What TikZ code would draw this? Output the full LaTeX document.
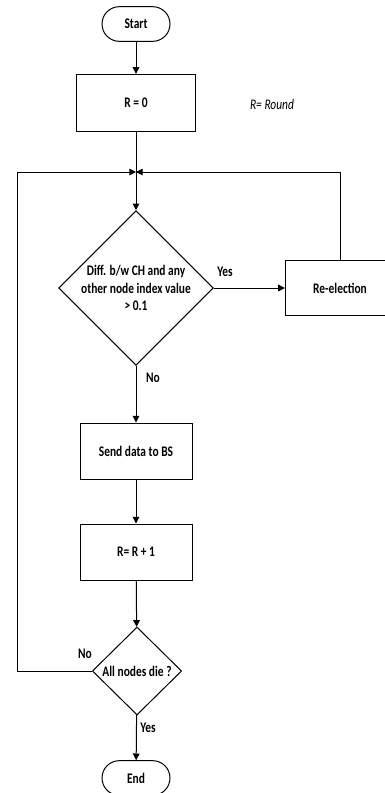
\documentclass[tikz,border=0pt]{standalone}
\usepackage{fontspec}
\setmainfont{Carlito}[FakeStretch=0.78]
\usetikzlibrary{shapes.geometric,arrows.meta}

\begin{document}
\begin{tikzpicture}[x=0.75pt,y=-0.75pt,line width=0.75pt,
        font=\fontsize{11}{13}\selectfont\bfseries,
        term/.style={draw,rectangle,rounded corners=13pt,minimum width=51pt,minimum height=26pt},
        blocco/.style={draw,rectangle,minimum width=84pt,minimum height=42pt},
        scelta/.style={draw,diamond,align=center,inner sep=0pt},
        freccia/.style={-{Triangle[length=5pt,width=5pt]}}]
        \clip(0,0)rectangle(385,793); %taglio come nella figura
        
        %blocchi
        \node[term](start)at(136,24){Start};
        \node[blocco,minimum width=89pt,minimum height=43pt](rzero)at(136,103){R = 0};
        \node[font=\fontsize{11}{13}\selectfont\itshape](nota)at(272,104){R= Round};
        \coordinate(giunto)at(136,172);
        \node[scelta,minimum width=114pt,minimum height=112pt](diff)at(136,288){Diff. b/w CH and any\\other node index value\\> 0.1};
        \node[blocco,minimum width=82pt,minimum height=41pt](rielez)at(340,288){Re-election};
        \node[blocco](invio)at(136,451){Send data to BS};
        \node[blocco](incr)at(136,552){R= R + 1};
        \node[scelta,minimum width=67pt,minimum height=66pt](morti)at(137,671){All nodes die ?};
        \node[term](fine)at(136,778){End};
        \coordinate(sx)at(17,671);
        
        %etichette
        \node(si1)at(225,272){Yes};
        \node(no1)at(153,378){No};
        \node(no2)at(85,654){No};
        \node(si2)at(148,728){Yes};
        
        %frecce
        \draw[freccia](start)--(rzero);
        \draw[freccia](rzero)--(diff);
        \draw[freccia](diff)--(rielez);
        \draw[freccia](rielez.north)|-(giunto);
        \draw[freccia](diff)--(invio);
        \draw[freccia](invio)--(incr);
        \draw[freccia](incr)--(morti);
        \draw[freccia](morti.west)--(sx)|-(giunto); %ritorno a sinistra
        \draw[freccia](morti)--(fine);
    \end{tikzpicture}
\end{document}
